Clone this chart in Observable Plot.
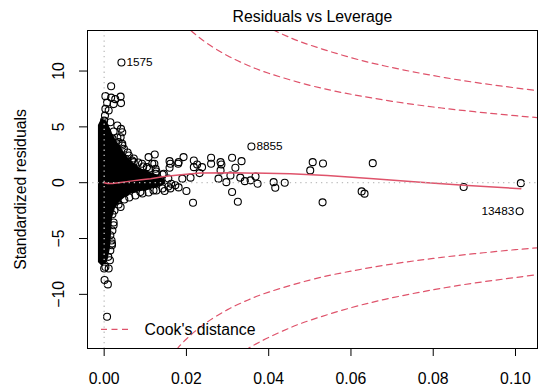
<!DOCTYPE html>
<html><head><meta charset="utf-8">
<script src="https://cdn.jsdelivr.net/npm/d3@7"></script>
<script src="https://cdn.jsdelivr.net/npm/@observablehq/plot@0.6"></script>
<style>html,body{margin:0;padding:0;background:#fff;}</style>
</head><body><div id="chart"></div>
<script>
const ptLev = [0.0042,0.0017,0.0003,0.0017,0.0027,0.0040,0.0007,0.0023,0.0041,0.0003,0.0011,0.0002,0.0000,0.0015,0.0032,0.0041,0.0044,0.0035,0.0040,0.0044,
  0.0048,0.0060,0.0068,0.0092,0.0108,0.0117,0.0125,0.0072,0.0052,0.0104,0.0145,0.0161,0.0181,0.0193,0.0218,0.0226,0.0238,0.0260,0.0260,0.0283,
  0.0285,0.0311,0.0319,0.0334,0.0283,0.0307,0.0331,0.0278,0.0297,0.0342,0.0356,0.0368,0.0373,0.0412,0.0416,0.0439,0.0311,0.0325,0.0216,0.0200,
  0.0173,0.0147,0.0190,0.0210,0.0232,0.0163,0.0129,0.0125,0.0123,0.0122,0.0159,0.0159,0.0180,0.0218,0.0088,0.0120,0.0040,0.0032,0.0019,0.0014,
  0.0000,0.0003,0.0011,0.0001,0.0009,0.0007,0.0019,0.0000,0.0010,0.0507,0.0532,0.0501,0.0653,0.0531,0.0626,0.0633,0.0358,0.0874,0.1013,0.1010,
  0.0076,0.0088,0.0100,0.0064,0.0052,0.0137,0.0105,0.0083,0.0057,0.0035,0.0025,0.0020,0.0020,0.0023,0.0015,0.0027,0.0161,0.0181,
  0.0023,0.0032,0.0044,0.0057,0.0072,0.0083,0.0095,0.0110,0.0127,0.0142,0.0156,
  0.0023,0.0025,0.0035,0.0049,0.0061,0.0076,0.0093,0.0108,0.0127,0.0142,0.0156,
  0.0015,0.0020,0.0018];
const ptRes = [10.77,8.64,7.75,7.62,7.48,7.71,7.17,7.04,7.13,6.61,6.46,6.01,5.56,5.41,5.12,4.82,4.52,3.63,4.07,3.48,
  3.04,2.44,1.99,1.70,2.29,1.70,1.25,1.84,2.14,1.39,0.80,1.70,1.84,2.29,1.99,1.63,1.39,2.23,1.70,1.84,
  1.63,2.23,1.34,1.93,1.10,0.65,0.45,0.36,0.05,0.14,0.21,0.56,-0.09,0.05,-0.45,0.00,-0.84,-1.71,-1.79,-0.75,
  -0.24,-0.75,0.36,0.45,0.86,-0.09,0.05,0.80,2.53,1.70,1.93,1.34,1.70,1.39,-0.84,-0.69,-2.18,-1.58,-5.60,-6.94,
  -7.68,-7.54,-7.68,-8.72,-9.11,-12.0,-5.45,-6.20,-6.64,1.84,1.72,1.10,1.75,-1.76,-0.78,-0.98,3.24,-0.39,-0.04,-2.56,
  0.38,-0.06,-0.33,-0.51,-0.87,0.21,0.56,0.92,1.28,2.35,3.06,3.96,-2.83,-3.81,-4.71,-1.22,-0.51,-0.42,
  4.59,4.05,3.33,2.70,2.17,1.81,1.45,1.27,1.00,0.73,0.38,
  -3.56,-2.49,-1.95,-1.50,-1.33,-1.15,-0.97,-0.88,-0.70,-0.52,-0.34,
  -6.07,-4.28,-5.18];

// envelope of the solid, overplotted core of thousands of points
const coreLev = [-0.00139,-0.00066,0.00032,0.00104,0.00153,0.00177,0.00202,0.00275,0.00396,0.00518,0.00639,0.00882,0.01125,0.01320,0.01490];
const coreHi  = [5.12,5.66,5.66,5.21,4.84,4.66,4.41,3.87,3.24,2.53,1.99,1.27,0.91,0.64,0.20];
const coreLo  = [-7.15,-7.42,-7.42,-6.79,-5.90,-4.73,-3.21,-2.31,-1.69,-1.33,-1.06,-0.79,-0.61,-0.43,-0.16];

// labelled observations
const labelIds = ["1575","8855","13483"];
const labelLev = [0.0042,0.0358,0.1010];
const labelRes = [10.77,3.24,-2.56];
const labelSide = ["right","right","left"];

// red smoother
const smoothLev = [0,0.0008,0.002,0.0040,0.0064,0.0090,0.0113,0.0145,0.0193,0.0234,0.0314,0.0453,0.0542,0.0655,0.0769,0.0874,0.1013];
const smoothRes = [0,-0.08,-0.08,0.02,0.14,0.26,0.36,0.56,0.74,0.86,0.89,0.80,0.65,0.36,0.05,-0.24,-0.54];

// Cook's distance contours (0.5 and 1), magnitudes read at these leverages
const cookLev05 = [0.016,0.018,0.02,0.022,0.025,0.03,0.035,0.04,0.05,0.06,0.07,0.08,0.09,0.10,0.106];
const cook05    = [15.68,14.77,14.0,13.34,12.49,11.37,10.50,9.80,8.72,7.92,7.29,6.78,6.36,6.0,5.81];
const cookLev1  = [0.03,0.035,0.04,0.045,0.05,0.06,0.07,0.08,0.09,0.10,0.106];
const cook1     = [16.08,14.85,13.86,13.03,12.33,11.20,10.31,9.59,8.99,8.49,8.21];

const xTicks = [0,0.02,0.04,0.06,0.08,0.10];
const yTicks = [-10,-5,0,5,10];

const titleText = "Residuals vs Leverage";
const yLabel = "Standardized residuals";
const legendText = "Cook's distance";

const font = "'Liberation Sans', Arial, Helvetica, sans-serif";
const red = "#DF536B";
const fs = 15.8;
const dash = "6,4.5";

const points = ptLev.map((x,i)=>({x, y: ptRes[i]}));
const core = coreLev.map((x,i)=>({x, lo: coreLo[i], hi: coreHi[i]}));
const smooth = smoothLev.map((x,i)=>({x, y: smoothRes[i]}));
const labels = labelIds.map((t,i)=>({t, x: labelLev[i], y: labelRes[i], side: labelSide[i]}));
const cookCurves = [];
for (const [lev, mag] of [[cookLev05, cook05],[cookLev1, cook1]]) {
  for (const sgn of [1,-1]) cookCurves.push(lev.map((x,i)=>({x, y: sgn*mag[i]})));
}
const cookStyle = {x:"x", y:"y", stroke: red, strokeWidth: 1.2, strokeDasharray: dash, curve: "natural", clip: true};

const chart = Plot.plot({
  width: 538, height: 387,
  marginLeft: 87, marginRight: 1, marginTop: 30, marginBottom: 39,
  style: {fontFamily: font, fontSize: fs + "px", background: "white", color: "black"},
  x: {domain: [-0.00405, 0.10535]},
  y: {domain: [-14.85, 13.63]},
  marks: [
    Plot.areaY(core, {x: "x", y1: "lo", y2: "hi", fill: "black", clip: true}),
    Plot.dot(points, {x: "x", y: "y", r: 3.5, stroke: "black", strokeWidth: 1.1, fill: "none", clip: true}),
    Plot.line(smooth, {x: "x", y: "y", stroke: red, strokeWidth: 1.5}),
    Plot.ruleY([0], {stroke: "#BEBEBE", strokeWidth: 1.3, strokeDasharray: "1.3,3.9"}),
    Plot.ruleX([0], {stroke: "#BEBEBE", strokeWidth: 1.3, strokeDasharray: "1.3,3.9"}),
    ...cookCurves.map(c => Plot.line(c, cookStyle)),
    Plot.text(labels.filter(d=>d.side==="right"), {x:"x", y:"y", text:"t", dx: 5, textAnchor: "start", fontSize: 11.8, fill: "black"}),
    Plot.text(labels.filter(d=>d.side==="left"), {x:"x", y:"y", text:"t", dx: -5.3, textAnchor: "end", fontSize: 11.8, fill: "black"}),
    Plot.frame({stroke: "black", strokeWidth: 1}),
    Plot.axisX({ticks: xTicks, tickFormat: d3.format(".2f"), tickSize: 8, tickPadding: 16, fontSize: fs, label: null}),
    Plot.axisY({ticks: yTicks, tickRotate: -90, tickSize: 8, tickPadding: 16, fontSize: fs, label: null}),
    Plot.text([titleText], {frameAnchor: "top", textAnchor: "middle", lineAnchor: "bottom", dy: -8.3, fontSize: fs}),
    Plot.text([yLabel], {frameAnchor: "left", textAnchor: "middle", rotate: -90, lineAnchor: "bottom", dx: -62, fontSize: fs}),
    Plot.text([legendText], {frameAnchor: "bottom-left", textAnchor: "start", lineAnchor: "bottom", dx: 57, dy: -13.2, fontSize: fs})
  ]
});
const svg = d3.select(chart);
svg.append("line").attr("x1", 101).attr("x2", 128).attr("y1", 329.3).attr("y2", 329.3)
  .attr("stroke", red).attr("stroke-width", 1.2).attr("stroke-dasharray", dash);
document.getElementById("chart").appendChild(chart);
</script>
</body></html>
